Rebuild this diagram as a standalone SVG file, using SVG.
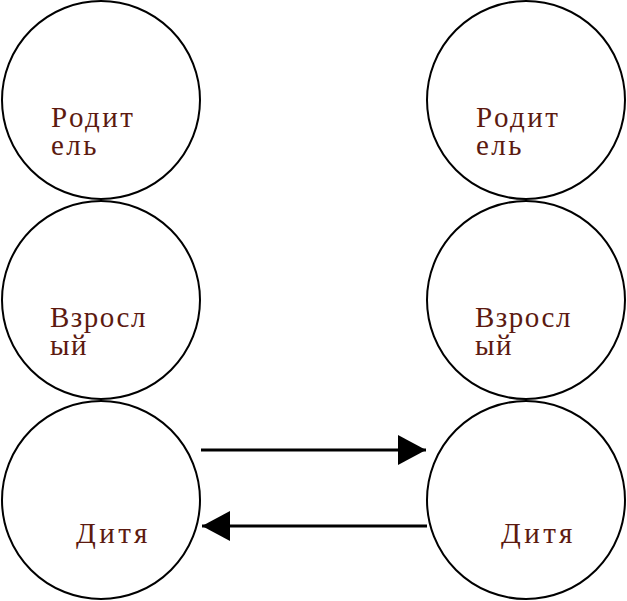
<svg xmlns="http://www.w3.org/2000/svg" width="627" height="601" viewBox="0 0 627 601">
<style>
.c{fill:#fff;stroke:#000;stroke-width:2}
.t{font-family:"Liberation Serif","Times New Roman",serif;font-size:29px;fill:#5c1a10;letter-spacing:2.5px}
.n{letter-spacing:1.5px}
.w{letter-spacing:3.5px}
.e{stroke:#000;stroke-width:3;fill:none}
</style>
<defs>
<marker id="ah" markerUnits="userSpaceOnUse" markerWidth="30" markerHeight="30" refX="28" refY="15" orient="auto">
<path d="M0,0 L28,15 L0,30 Z" fill="#000"/>
</marker>
</defs>
<rect width="627" height="601" fill="#fff"/>
<g id="parent-left"><circle class="c" cx="101" cy="100" r="99"/><text class="t" x="51" y="127">Родит</text><text class="t" x="51" y="155">ель</text></g>
<g id="adult-left"><circle class="c" cx="101" cy="300" r="99"/><text class="t n" x="50" y="327">Взросл</text><text class="t n" x="50" y="355">ый</text></g>
<g id="child-left"><circle class="c" cx="101" cy="500" r="99"/><text class="t w" x="76" y="543">Дитя</text></g>
<g id="parent-right"><circle class="c" cx="526" cy="100" r="99"/><text class="t" x="476" y="127">Родит</text><text class="t" x="476" y="155">ель</text></g>
<g id="adult-right"><circle class="c" cx="526" cy="300" r="99"/><text class="t n" x="475" y="327">Взросл</text><text class="t n" x="475" y="355">ый</text></g>
<g id="child-right"><circle class="c" cx="526" cy="500" r="99"/><text class="t w" x="501" y="543">Дитя</text></g>
<g id="connectors">
<line class="e" x1="201" y1="450" x2="426" y2="450" marker-end="url(#ah)"/>
<line class="e" x1="427" y1="526" x2="202" y2="526" marker-end="url(#ah)"/>
</g>
</svg>
